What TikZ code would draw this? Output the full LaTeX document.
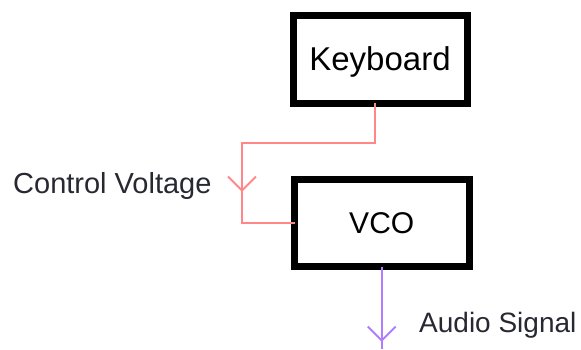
\documentclass[tikz,border=0pt]{standalone}
\usepackage{fontspec}
\setmainfont{Liberation Sans}
\usetikzlibrary{arrows.meta,decorations.markings}
\definecolor{ctrlred}{RGB}{255,135,135}
\definecolor{audiopurple}{RGB}{175,125,255}
\definecolor{textgray}{RGB}{40,40,50}
\begin{document}
\begin{tikzpicture}[x=1pt,y=-1pt,
  box/.style={draw=black,line width=7pt,inner sep=0pt,outer sep=0pt,fill=white,text=black},
  lbl/.style={anchor=west,inner sep=0pt,text=textgray},
  ctrl/.style={draw=ctrlred,line width=2pt},
  audio/.style={draw=audiopurple,line width=2pt},
  barbtip/.tip={Straight Barb[length=14pt,width=28pt,line width=2pt]}
]
\useasboundingbox (0,0) rectangle (581,349);
\node[box,minimum width=174pt,minimum height=88pt,text depth=0pt,font=\fontsize{33}{39}\selectfont] (kb) at (380,59) {Keyboard};
\node[box,minimum width=174.5pt,minimum height=87.5pt,font=\fontsize{30}{36}\selectfont] (vco) at (381.75,222.75) {VCO};
\coordinate (c1) at (242,143);
\coordinate (aud) at (381.75,349);
\draw[ctrl,decoration={markings,mark=at position 0.727 with {\arrow{barbtip}}},postaction={decorate}]
  ([xshift=-5pt]kb.south) |- (c1) |- (vco.west);
\draw[audio,decoration={markings,mark=at position 0.915 with {\arrow{barbtip}}},postaction={decorate}]
  (vco.south) -- (aud);
\node[lbl,font=\fontsize{29}{35}\selectfont] (cv) at (13,186) {Control Voltage};
\node[lbl,font=\fontsize{28}{34}\selectfont] (as) at (419,325) {Audio Signal};
\end{tikzpicture}
\end{document}
